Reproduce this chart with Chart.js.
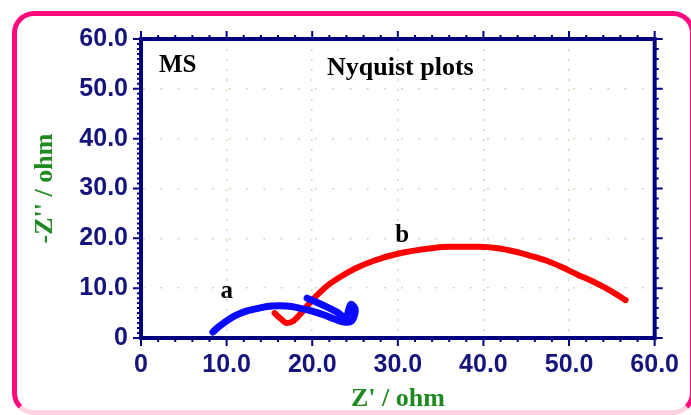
<!DOCTYPE html>
<html>
<head>
<meta charset="utf-8">
<script src="https://cdn.jsdelivr.net/npm/chart.js@4.4.1/dist/chart.umd.min.js"></script>
<style>
  html, body { margin: 0; padding: 0; background: #fff; }
  #wrap { position: relative; width: 691px; height: 415px; overflow: hidden; }
  #frame {
    position: absolute; left: 12px; top: 11px; width: 673px; height: 394px;
    border: 5px solid #ff0a7c; border-bottom-color: #ffd3e4;
    border-radius: 22px; pointer-events: none;
  }
</style>
</head>
<body>
<div id="wrap">
  <canvas id="nyquist"></canvas>
  <div id="frame"></div>
</div>
<script>
// curve a (blue)
const aZre = [8.4, 8.9, 9.8, 10.9, 12.3, 13.8, 15.3, 17.0, 18.5, 20.0, 21.4, 22.6, 23.7, 24.5, 24.9, 25.0, 24.5, 23.9, 22.9, 21.5, 20.2, 19.4];
const aZim = [1.2, 2.0, 3.2, 4.4, 5.4, 6.0, 6.4, 6.4, 6.0, 5.4, 4.6, 3.8, 3.2, 3.3, 4.4, 5.9, 6.7, 4.2, 5.2, 6.4, 7.4, 8.0];
// curve b (red)
const bZre = [15.6, 16.3, 17.0, 17.8, 18.5, 19.2, 19.9, 20.8, 22.0, 23.5, 25.2, 27.2, 30.0, 33.9, 36.0, 39.4, 41.7, 43.5, 45.5, 47.4, 49.2, 51.0, 52.6, 54.1, 55.4, 56.6];
const bZim = [5.0, 3.9, 3.0, 3.4, 4.6, 6.0, 7.4, 9.0, 10.8, 12.5, 14.1, 15.5, 16.9, 18.0, 18.3, 18.3, 18.0, 17.4, 16.5, 15.5, 14.2, 12.7, 11.5, 10.2, 8.9, 7.6];
const xTicks = [0, 10, 20, 30, 40, 50, 60];
const yTicks = [0, 10, 20, 30, 40, 50, 60];

const navy = '#000080';
const serif = "'Liberation Serif', 'Times New Roman', serif";
const sans = "'Liberation Sans', Arial, sans-serif";

const toPts = (xs, ys) => xs.map((v, i) => ({ x: v, y: ys[i] }));
const fmt = v => v === 0 ? '0' : v.toFixed(1);
const gridCol = c => (c.tick && c.tick.value > 0 && c.tick.value < 60) ? '#d8d5bc' : 'transparent';

const frameTicks = {
  id: 'frameTicks',
  afterDraw(chart) {
    const { ctx, chartArea: { left, right, top, bottom }, scales: { x, y } } = chart;
    ctx.save();
    ctx.strokeStyle = navy;
    ctx.lineWidth = 4;
    ctx.beginPath();
    ctx.moveTo(left - 2, top); ctx.lineTo(right + 2, top);
    ctx.moveTo(right, top); ctx.lineTo(right, bottom + 2);
    ctx.stroke();
    ctx.lineWidth = 2;
    ctx.beginPath();
    for (let v = 0; v <= 60; v += 2) {
      const px = x.getPixelForValue(v);
      const len = v % 10 === 0 ? 8 : 4;
      ctx.moveTo(px, bottom); ctx.lineTo(px, bottom + len);
      ctx.moveTo(px, top); ctx.lineTo(px, top - len);
      const py = y.getPixelForValue(v);
      ctx.moveTo(right, py); ctx.lineTo(right + len, py);
    }
    for (let v = 0; v <= 60; v += 1) {
      const py = y.getPixelForValue(v);
      const len = v % 10 === 0 ? 8 : 4;
      ctx.moveTo(left, py); ctx.lineTo(left - len, py);
    }
    ctx.stroke();
    ctx.restore();
  }
};

const notes = {
  id: 'notes',
  afterDatasetsDraw(chart) {
    const { ctx, chartArea: { left, top }, scales: { x, y } } = chart;
    ctx.save();
    ctx.fillStyle = '#000';
    ctx.textBaseline = 'alphabetic';
    ctx.textAlign = 'left';
    ctx.font = 'bold 25px ' + serif;
    ctx.fillText('MS', left + 18, top + 33);
    ctx.font = 'bold 26px ' + serif;
    ctx.fillText('Nyquist plots', left + 186, top + 36);
    ctx.font = 'bold 25px ' + serif;
    ctx.fillText('a', x.getPixelForValue(9.3), y.getPixelForValue(8.0));
    ctx.fillText('b', x.getPixelForValue(29.7), y.getPixelForValue(19.2));
    ctx.restore();
  }
};

new Chart(document.getElementById('nyquist'), {
  type: 'scatter',
  data: {
    datasets: [
      { label: 'a', data: toPts(aZre, aZim), borderColor: '#0a0aff', borderWidth: 7 },
      { label: 'b', data: toPts(bZre, bZim), borderColor: '#ff0000', borderWidth: 6, cubicInterpolationMode: 'monotone' }
    ]
  },
  options: {
    responsive: true,
    maintainAspectRatio: false,
    animation: false,
    showLine: true,
    elements: {
      point: { radius: 0 },
      line: { tension: 0.35, borderCapStyle: 'round', borderJoinStyle: 'round' }
    },
    layout: { padding: { top: 39, right: 33, left: 0, bottom: 0 } },
    scales: {
      x: {
        min: 0, max: 60,
        afterFit: s => { s.height = 77; },
        afterBuildTicks: s => { s.ticks = xTicks.map(v => ({ value: v })); },
        ticks: { callback: fmt, color: '#14147c', padding: 12, maxRotation: 0, font: { family: sans, size: 25, weight: 'bold' } },
        grid: { drawTicks: false, color: gridCol, lineWidth: 1.5 },
        border: { color: navy, width: 4, dash: [2, 8] },
        title: { display: true, text: "Z' / ohm", color: '#1f8a1f', padding: { top: 2, bottom: 0 }, font: { family: serif, size: 26, weight: 'bold' } }
      },
      y: {
        min: 0, max: 60,
        afterFit: s => { s.width = 141; },
        afterBuildTicks: s => { s.ticks = yTicks.map(v => ({ value: v })); },
        ticks: { callback: fmt, color: '#14147c', padding: 13, font: { family: sans, size: 25, weight: 'bold' } },
        grid: { drawTicks: false, color: gridCol, lineWidth: 1.5 },
        border: { color: navy, width: 4, dash: [2, 15.2] },
        title: { display: true, text: "-Z'' / ohm", color: '#1f8a1f', padding: { top: 30, bottom: 0 }, font: { family: serif, size: 26, weight: 'bold' } }
      }
    },
    plugins: {
      legend: { display: false },
      tooltip: { enabled: false }
    }
  },
  plugins: [frameTicks, notes]
});
</script>
</body>
</html>
